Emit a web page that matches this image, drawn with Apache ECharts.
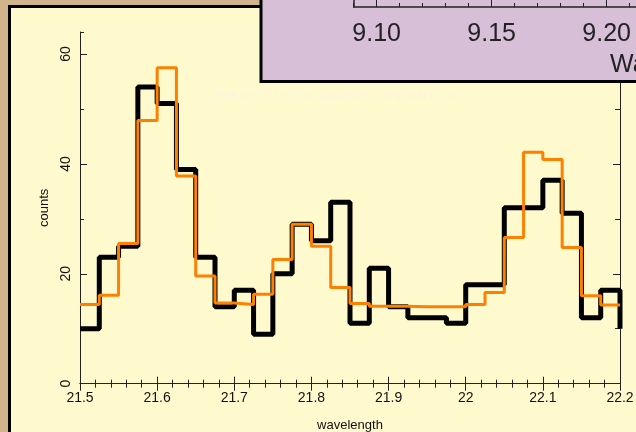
<!DOCTYPE html>
<html><head><meta charset="utf-8">
<script src="https://cdn.jsdelivr.net/npm/echarts@6/dist/echarts.min.js"></script>
<style>html,body{margin:0;padding:0;background:#D2B48C;}#c{width:636px;height:432px;}</style>
</head><body><div id="c"></div>
<script>
// ---- data ----
const binStart = 21.5;
const binWidth = 0.025;
const observedCounts = [10, 23, 25, 54, 51, 39, 23, 14, 17, 9, 20, 29, 26, 33, 11, 21, 14, 12, 12, 11, 18, 18, 32, 32, 37, 31, 12, 17];
const observedNextBin = 10;
const modelCounts = [14.4, 16.1, 25.5, 47.9, 57.5, 37.8, 19.6, 14.7, 14.4, 16.3, 22.6, 29.0, 25.0, 17.5, 14.6, 14.1, 14.1, 14.0, 14.0, 14.0, 14.4, 16.6, 26.6, 42.1, 40.8, 24.8, 16.0, 14.3];
const xRange = [21.5, 22.2];
const yRange = [0, 64];
const insetRange = [9.09, 9.25];
const insetTickLabels = [9.10, 9.15, 9.20, 9.25];
const stamp = '2005 Oct  5 14:33:44 testa@tichy  PINTofALE 2.00';

function stepData(vals, tail) {
  const d = vals.map((v, i) => [+(binStart + i * binWidth).toFixed(4), v]);
  const end = +(binStart + vals.length * binWidth).toFixed(4);
  d.push([end, vals[vals.length - 1]]);
  if (tail != null) d.push([end, tail]);
  return d;
}

const font = "'Liberation Sans', Arial, sans-serif";
const ac = '#222';
const lineS = {lineStyle: {color: ac, width: 1}};
const chart = echarts.init(document.getElementById('c'), null, {renderer: 'canvas'});
const mainX = (pos, labels) => ({
  gridIndex: 0, type: 'value', position: pos, min: xRange[0], max: xRange[1], interval: 0.1,
  axisLine: lineS, axisTick: {inside: true, length: 7, lineStyle: {color: ac}},
  minorTick: {show: true, splitNumber: 5, length: 4, lineStyle: {color: ac}},
  splitLine: {show: false}, minorSplitLine: {show: false},
  axisLabel: {show: labels, color: '#111', fontSize: 14, fontFamily: font, margin: 7},
  name: labels ? 'wavelength' : '', nameLocation: 'middle', nameGap: 35,
  nameTextStyle: {color: '#111', fontSize: 13, fontFamily: font}
});
const mainY = (pos, interval, tickLen, labels, showLine) => ({
  gridIndex: 0, type: 'value', position: pos, min: yRange[0], max: yRange[1], interval: interval,
  axisLine: {show: showLine, lineStyle: {color: ac, width: 1}},
  axisTick: {inside: true, length: tickLen, lineStyle: {color: ac}},
  splitLine: {show: false},
  axisLabel: {show: labels, color: '#111', fontSize: 14, fontFamily: font, rotate: 90, margin: 7, showMaxLabel: false},
  name: labels ? 'counts' : '', nameLocation: 'middle', nameGap: 27, nameRotate: 90,
  nameTextStyle: {color: '#111', fontSize: 13, fontFamily: font}
});

chart.setOption({
  animation: false,
  backgroundColor: 'transparent',
  grid: [
    {left: 80, top: 32, right: 16, bottom: 48.3, outerBoundsMode: 'none', containLabel: false},
    {left: 353.7, top: -200, width: 368, height: 207, outerBoundsMode: 'none', containLabel: false}
  ],
  xAxis: [
    mainX('bottom', true),
    mainX('top', false),
    {gridIndex: 1, type: 'value', position: 'bottom', min: insetRange[0], max: insetRange[1], interval: 0.01, z: 20,
     axisLine: {lineStyle: {color: ac, width: 1.5}}, axisTick: {inside: true, length: 4, lineStyle: {color: ac}},
     axisLabel: {show: false}, splitLine: {show: false}},
    {gridIndex: 1, type: 'value', position: 'bottom', min: insetRange[0], max: insetRange[1], z: 20,
     axisLine: {show: false}, axisTick: {inside: true, length: 9, customValues: insetTickLabels, lineStyle: {color: ac}},
     axisLabel: {customValues: insetTickLabels, formatter: v => v.toFixed(2), color: '#222', fontSize: 25, fontFamily: font, margin: 15},
     splitLine: {show: false}}
  ],
  yAxis: [
    mainY('left', 10, 4, false, true),
    mainY('left', 20, 7, true, false),
    mainY('right', 10, 5, false, true),
    mainY('right', 20, 7, false, false),
    {gridIndex: 1, type: 'value', position: 'left', min: 0, max: 1, z: 20,
     axisLine: {show: true, lineStyle: {color: ac, width: 1.5}}, axisTick: {show: false}, axisLabel: {show: false}, splitLine: {show: false}}
  ],
  graphic: [
    {type: 'rect', z: -10, shape: {x: 9.5, y: 6.5, width: 700, height: 500}, style: {fill: '#FFFACD', stroke: '#000', lineWidth: 3}},
    {type: 'text', z: 1, x: 213, y: 97, style: {text: stamp, fill: '#FFF2DE', font: '11px ' + font, verticalAlign: 'middle'}},
    {type: 'rect', z: 10, shape: {x: 261, y: -10, width: 400, height: 91.5}, style: {fill: '#D8BFD8', stroke: '#000', lineWidth: 3}},
    {type: 'text', z: 21, x: 610, y: 65, style: {text: 'Wavelength', fill: '#222', font: '25px ' + font, verticalAlign: 'middle'}}
  ],
  series: [
    {type: 'line', name: 'observed', xAxisIndex: 0, yAxisIndex: 0, step: 'end', showSymbol: false, z: 2,
     data: stepData(observedCounts, observedNextBin), lineStyle: {color: '#000', width: 5}},
    {type: 'line', name: 'model', xAxisIndex: 0, yAxisIndex: 0, step: 'end', showSymbol: false, z: 3,
     data: stepData(modelCounts), lineStyle: {color: '#FF8000', width: 3}}
  ]
});
</script></body></html>
